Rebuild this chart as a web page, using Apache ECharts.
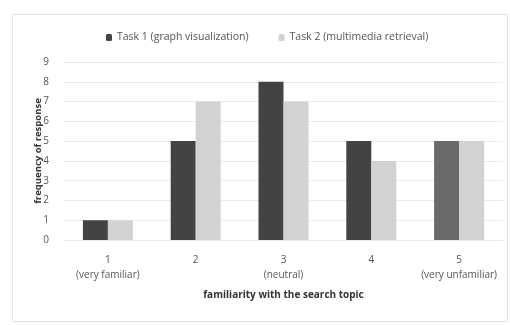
<!DOCTYPE html>
<html><head><meta charset="utf-8">
<script src="https://cdn.jsdelivr.net/npm/echarts@6/dist/echarts.min.js"></script>
<style>
html,body{margin:0;padding:0;background:#fff;}
#frame{position:absolute;left:12px;top:14px;width:496px;height:308px;border:1px solid #e4e4e4;box-sizing:border-box;}
#c{position:absolute;left:0;top:0;width:510px;height:325px;}
</style></head>
<body><div id="frame"></div><div id="c"></div>
<script>
const categories = ['1\n(very familiar)', '2', '3\n(neutral)', '4', '5\n(very unfamiliar)'];
const task1 = [1, 5, 8, 5, 5];
const task2 = [1, 7, 7, 4, 5];
const seriesNames = ['Task 1 (graph visualization)', 'Task 2 (multimedia retrieval)'];
const yTicks = [0, 9, 1];

const chart = echarts.init(document.getElementById('c'), null, {renderer: 'canvas'});
const font = 'Open Sans';
chart.setOption({
  animation: false,
  backgroundColor: 'transparent',
  legend: {
    top: 27, left: 101, itemWidth: 6, itemHeight: 7, itemGap: 30,
    textStyle: {fontFamily: font, fontSize: 10.5, color: '#555'},
    data: seriesNames
  },
  grid: {left: 64, right: 7, top: 62, bottom: 85},
  xAxis: {
    type: 'category', data: categories,
    name: 'familiarity with the search topic', nameLocation: 'middle', nameGap: 50,
    nameTextStyle: {fontFamily: font, fontSize: 10, fontWeight: 'bold', color: '#333'},
    axisLine: {show: false}, axisTick: {show: false},
    axisLabel: {interval: 0, fontFamily: font, fontSize: 10, color: '#555', lineHeight: 15, margin: 13}
  },
  yAxis: {
    type: 'value', min: yTicks[0], max: yTicks[1], interval: yTicks[2],
    name: 'frequency of response', nameLocation: 'middle', nameGap: 21, nameMoveOverlap: false,
    nameTextStyle: {fontFamily: font, fontSize: 9.5, fontWeight: 'bold', color: '#333'},
    axisLine: {show: false}, axisTick: {show: false},
    axisLabel: {fontFamily: font, fontSize: 10, color: '#555', margin: 15},
    splitLine: {lineStyle: {color: '#ececec', width: 1}}
  },
  series: [
    {name: seriesNames[0], type: 'bar', barWidth: 25, barGap: '0%',
     data: task1.map((v, i) => i === 4 ? {value: v, itemStyle: {color: '#6a6a6a'}} : v),
     itemStyle: {color: '#434343'}},
    {name: seriesNames[1], type: 'bar', data: task2, barWidth: 25,
     itemStyle: {color: '#d2d2d2'}}
  ]
});
</script></body></html>
